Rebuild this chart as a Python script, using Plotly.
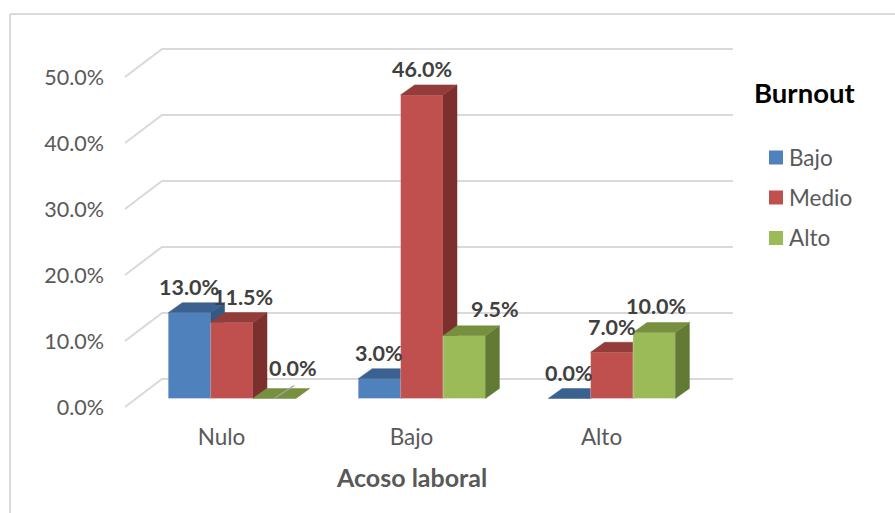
import plotly.graph_objects as go

categories = ["Nulo", "Bajo", "Alto"]
series_names = ["Bajo", "Medio", "Alto"]
bajo = [13.0, 3.0, 0.0]
medio = [11.5, 46.0, 7.0]
alto = [0.0, 9.5, 10.0]
tick_values = [0, 10, 20, 30, 40, 50]
tick_labels = ["0.0%", "10.0%", "20.0%", "30.0%", "40.0%", "50.0%"]
series_values = [bajo, medio, alto]

W, H = 895, 513
FACE = ["#4F81BD", "#C0504D", "#9BBB59"]
TOP = ["#3A618F", "#933D3A", "#76903F"]
SIDE = ["#335A85", "#7B302E", "#637A35"]
GRID = "#D9D9D9"
FONT = "Lato"

# pixel frame of the plot
L, R, T, B = 112, 745, 36, 420
X0_PX, CAT_PX = 221.5, 190.0
Y0_PX, PCT_PX = 407.0, 6.6
xr = [(L - X0_PX) / CAT_PX, (R - X0_PX) / CAT_PX]
yr = [(Y0_PX - B) / PCT_PX, (Y0_PX - T) / PCT_PX]

def dx(px):
    return px / CAT_PX

def dy(px):
    return px / PCT_PX

BAR_W = dx(42.4)
GROUP_SHIFT = dx(10.3)
BASE = dy(8.5)
DEPTH_X, DEPTH_Y = dx(14), dy(10)
WALL_X, WALL_Y = dx(37), dy(28)
FRONT_LEFT = dx(125 - X0_PX)
WALL_RIGHT = dx(733 - X0_PX)

fig = go.Figure()

# walls: gridlines
gx, gy = [], []
for v in tick_values:
    gx += [FRONT_LEFT, FRONT_LEFT + WALL_X, WALL_RIGHT, None]
    gy += [v, v + WALL_Y, v + WALL_Y, None]
fig.add_trace(go.Scatter(x=gx, y=gy, mode="lines", line=dict(color=GRID, width=2),
                         hoverinfo="skip", showlegend=False, xaxis="x", yaxis="y"))

def poly(pts):
    xs, ys = [], []
    for quad in pts:
        xs += [p[0] for p in quad] + [quad[0][0], None]
        ys += [p[1] for p in quad] + [quad[0][1], None]
    return xs, ys

label_anchor = []
for i, (name, vals) in enumerate(zip(series_names, series_values)):
    ax = f"x{i + 2}"
    ay = f"y{i + 2}"
    off = GROUP_SHIFT + (i - 1.5) * BAR_W
    fig.add_trace(go.Bar(
        x=list(range(len(categories))), y=vals, base=BASE, width=BAR_W, offset=off,
        name=name, showlegend=False,
        marker=dict(color=FACE[i], line=dict(color="rgba(255,255,255,0.3)", width=1)),
        xaxis=ax, yaxis=ay, hoverinfo="skip"))
    tops, sides = [], []
    for c, v in enumerate(vals):
        x1, x2 = c + off, c + off + BAR_W
        y1, y2 = BASE, BASE + v
        tops.append([(x1, y2), (x2, y2), (x2 + DEPTH_X, y2 + DEPTH_Y), (x1 + DEPTH_X, y2 + DEPTH_Y)])
        sides.append([(x2, y1), (x2 + DEPTH_X, y1 + DEPTH_Y), (x2 + DEPTH_X, y2 + DEPTH_Y), (x2, y2)])
        label_anchor.append((c, i, c + off + BAR_W / 2, y2))
    for quads, col in ((sides, SIDE[i]), (tops, TOP[i])):
        xs, ys = poly(quads)
        fig.add_trace(go.Scatter(x=xs, y=ys, mode="lines", fill="toself", fillcolor=col,
                                 line=dict(color=col, width=0.5), hoverinfo="skip",
                                 showlegend=False, xaxis=ax, yaxis=ay))

# leader line of the zero-height green Nulo bar
c0x = 0 + GROUP_SHIFT + 0.5 * BAR_W + BAR_W / 2
fig.add_trace(go.Scatter(x=[c0x, c0x + dx(20)], y=[BASE + alto[0], BASE + alto[0] + dy(13)], mode="lines",
                         line=dict(color="#A6A6A6", width=1.2), hoverinfo="skip",
                         showlegend=False, xaxis="x4", yaxis="y4"))

# value labels, some moved sideways as in the source chart
label_xshift = {(0, 1): 11, (0, 2): 19, (1, 2): 30.5, (2, 2): 2}
label_yshift = {(0, 2): 31, (1, 2): 26.5, (2, 2): 26.5}
annotations = []
for c, i, lx, ly in label_anchor:
    annotations.append(dict(x=lx, y=ly, xref="x", yref="y", text=f"<b>{series_values[i][c]:.1f}%</b>",
                            showarrow=False, xanchor="center", yanchor="middle",
                            xshift=label_xshift.get((c, i), 0),
                            yshift=label_yshift.get((c, i), 25.5),
                            font=dict(family=FONT, size=21.5, color="#404040")))
annotations.append(dict(x=804 / W, y=1 - 92 / H, xref="paper", yref="paper", text="<b>Burnout</b>",
                        showarrow=False, xanchor="center", yanchor="middle",
                        font=dict(family=FONT, size=27.5, color="#000000")))
annotations.append(dict(x=411.5 / W, y=1 - 477 / H, xref="paper", yref="paper", text="<b>Acoso laboral</b>",
                        showarrow=False, xanchor="center", yanchor="middle",
                        font=dict(family=FONT, size=25, color="#595959")))

border = dict(type="line", xref="paper", yref="paper", line=dict(color=GRID, width=2))
shapes = [
    dict(border, x0=10 / W, x1=10 / W, y0=0, y1=1 - 14 / H),
    dict(border, x0=10 / W, x1=1, y0=1 - 14 / H, y1=1 - 14 / H),
]

# legend key, set out as in the source chart
LEG_X, LEG_ROWS = 769, [157.5, 197.5, 238]
for name, col, row in zip(series_names, FACE, LEG_ROWS):
    shapes.append(dict(type="rect", xref="paper", yref="paper", line=dict(width=0), fillcolor=col,
                       x0=LEG_X / W, x1=(LEG_X + 14) / W, y0=1 - (row + 7) / H, y1=1 - (row - 7) / H))
    annotations.append(dict(x=(LEG_X + 17.5) / W, y=1 - (row - 0.5) / H, xref="paper", yref="paper", text=name,
                            showarrow=False, xanchor="left", yanchor="middle",
                            font=dict(family=FONT, size=22.5, color="#595959")))

dom_x = [L / W, R / W]
dom_y = [1 - B / H, 1 - T / H]
layout = dict(
    width=W, height=H, margin=dict(l=0, r=0, t=0, b=0),
    paper_bgcolor="white", plot_bgcolor="rgba(0,0,0,0)",
    barmode="overlay", autosize=False, showlegend=False,
    annotations=annotations, shapes=shapes,
    xaxis=dict(domain=dom_x, range=xr, tickmode="array", tickvals=list(range(len(categories))),
               ticktext=categories, showgrid=False, zeroline=False, showline=False,
               ticks="", ticklabelstandoff=1, automargin=False,
               tickfont=dict(family=FONT, size=22.5, color="#595959")),
    yaxis=dict(domain=dom_y, range=yr, tickmode="array", tickvals=tick_values, ticktext=tick_labels,
               showgrid=False, zeroline=False, showline=False, ticks="", automargin=False,
               ticklabelstandoff=7,
               tickfont=dict(family=FONT, size=21.5, color="#595959")),
)
for n in (2, 3, 4):
    layout[f"xaxis{n}"] = dict(domain=dom_x, range=xr, overlaying="x", visible=False, anchor=f"y{n}")
    layout[f"yaxis{n}"] = dict(domain=dom_y, range=yr, overlaying="y", visible=False, anchor=f"x{n}")
fig.update_layout(**layout)
fig.write_html("out.html", config=dict(displayModeBar=False),
               post_script="document.body.style.margin='0';document.body.style.overflow='hidden';")
